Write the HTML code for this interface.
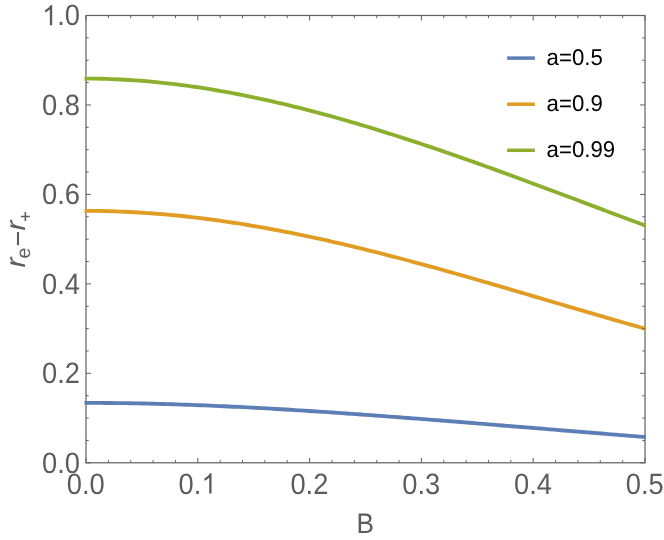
<!DOCTYPE html><html><head><meta charset="utf-8"><style>html,body{margin:0;padding:0;background:#fff}svg{display:block;will-change:transform}text{font-family:"Liberation Sans",sans-serif;text-rendering:geometricPrecision}</style></head><body>
<svg width="664" height="540" viewBox="0 0 664 540">
<rect width="664" height="540" fill="#fff"/>
<rect x="86.0" y="15.5" width="559.0" height="447.3" fill="none" stroke="#606060" stroke-width="1.2"/>
<clipPath id="c"><rect x="84.5" y="15.5" width="561.3" height="447.3"/></clipPath>
<path d="M82.64,402.90 L87.36,402.89 L92.08,402.90 L96.79,402.91 L101.51,402.93 L106.23,402.96 L110.94,403.00 L115.66,403.05 L120.38,403.11 L125.10,403.17 L129.81,403.25 L134.53,403.33 L139.25,403.42 L143.96,403.52 L148.68,403.62 L153.40,403.74 L158.11,403.86 L162.83,403.99 L167.55,404.12 L172.26,404.26 L176.98,404.41 L181.70,404.57 L186.41,404.73 L191.13,404.90 L195.85,405.08 L200.56,405.26 L205.28,405.45 L210.00,405.64 L214.71,405.84 L219.43,406.05 L224.15,406.26 L228.86,406.48 L233.58,406.71 L238.30,406.94 L243.01,407.17 L247.73,407.41 L252.45,407.66 L257.16,407.91 L261.88,408.16 L266.60,408.42 L271.31,408.69 L276.03,408.96 L280.75,409.23 L285.47,409.51 L290.18,409.79 L294.90,410.08 L299.62,410.37 L304.33,410.66 L309.05,410.96 L313.77,411.27 L318.48,411.57 L323.20,411.88 L327.92,412.20 L332.63,412.51 L337.35,412.83 L342.07,413.16 L346.78,413.48 L351.50,413.81 L356.22,414.14 L360.93,414.48 L365.65,414.82 L370.37,415.16 L375.08,415.50 L379.80,415.85 L384.52,416.20 L389.23,416.55 L393.95,416.90 L398.67,417.26 L403.38,417.61 L408.10,417.97 L412.82,418.33 L417.53,418.70 L422.25,419.06 L426.97,419.43 L431.68,419.80 L436.40,420.17 L441.12,420.54 L445.83,420.91 L450.55,421.28 L455.27,421.66 L459.99,422.03 L464.70,422.41 L469.42,422.79 L474.14,423.17 L478.85,423.55 L483.57,423.93 L488.29,424.31 L493.00,424.69 L497.72,425.08 L502.44,425.46 L507.15,425.85 L511.87,426.23 L516.59,426.62 L521.30,427.00 L526.02,427.39 L530.74,427.77 L535.45,428.16 L540.17,428.54 L544.89,428.93 L549.60,429.32 L554.32,429.70 L559.04,430.09 L563.75,430.47 L568.47,430.86 L573.19,431.24 L577.90,431.63 L582.62,432.01 L587.34,432.39 L592.05,432.78 L596.77,433.16 L601.49,433.54 L606.20,433.92 L610.92,434.30 L615.64,434.68 L620.36,435.06 L625.07,435.44 L629.79,435.82 L634.51,436.20 L639.22,436.57 L643.94,436.95 L648.66,437.32" fill="none" stroke="#5B7EB5" stroke-width="3.85" stroke-linejoin="round" clip-path="url(#c)"/>
<path d="M82.64,210.87 L87.36,210.87 L92.08,210.89 L96.79,210.94 L101.51,211.01 L106.23,211.11 L110.94,211.23 L115.66,211.38 L120.38,211.56 L125.10,211.76 L129.81,211.98 L134.53,212.23 L139.25,212.51 L143.96,212.80 L148.68,213.12 L153.40,213.47 L158.11,213.84 L162.83,214.23 L167.55,214.65 L172.26,215.08 L176.98,215.54 L181.70,216.03 L186.41,216.53 L191.13,217.06 L195.85,217.61 L200.56,218.17 L205.28,218.76 L210.00,219.38 L214.71,220.01 L219.43,220.66 L224.15,221.33 L228.86,222.03 L233.58,222.74 L238.30,223.47 L243.01,224.22 L247.73,224.99 L252.45,225.78 L257.16,226.58 L261.88,227.41 L266.60,228.25 L271.31,229.11 L276.03,229.99 L280.75,230.88 L285.47,231.79 L290.18,232.72 L294.90,233.67 L299.62,234.63 L304.33,235.60 L309.05,236.59 L313.77,237.60 L318.48,238.62 L323.20,239.66 L327.92,240.71 L332.63,241.77 L337.35,242.85 L342.07,243.95 L346.78,245.05 L351.50,246.17 L356.22,247.30 L360.93,248.45 L365.65,249.60 L370.37,250.77 L375.08,251.95 L379.80,253.14 L384.52,254.34 L389.23,255.56 L393.95,256.78 L398.67,258.01 L403.38,259.26 L408.10,260.51 L412.82,261.77 L417.53,263.04 L422.25,264.32 L426.97,265.61 L431.68,266.90 L436.40,268.21 L441.12,269.52 L445.83,270.84 L450.55,272.16 L455.27,273.49 L459.99,274.83 L464.70,276.17 L469.42,277.52 L474.14,278.88 L478.85,280.23 L483.57,281.60 L488.29,282.97 L493.00,284.34 L497.72,285.71 L502.44,287.09 L507.15,288.47 L511.87,289.86 L516.59,291.24 L521.30,292.63 L526.02,294.02 L530.74,295.41 L535.45,296.81 L540.17,298.20 L544.89,299.59 L549.60,300.99 L554.32,302.38 L559.04,303.77 L563.75,305.16 L568.47,306.55 L573.19,307.94 L577.90,309.33 L582.62,310.71 L587.34,312.09 L592.05,313.47 L596.77,314.84 L601.49,316.21 L606.20,317.58 L610.92,318.94 L615.64,320.29 L620.36,321.64 L625.07,322.99 L629.79,324.33 L634.51,325.66 L639.22,326.99 L643.94,328.31 L648.66,329.62" fill="none" stroke="#E19C24" stroke-width="3.85" stroke-linejoin="round" clip-path="url(#c)"/>
<path d="M82.64,78.59 L87.36,78.59 L92.08,78.61 L96.79,78.67 L101.51,78.77 L106.23,78.89 L110.94,79.05 L115.66,79.24 L120.38,79.46 L125.10,79.72 L129.81,80.00 L134.53,80.31 L139.25,80.66 L143.96,81.03 L148.68,81.43 L153.40,81.87 L158.11,82.33 L162.83,82.82 L167.55,83.34 L172.26,83.88 L176.98,84.45 L181.70,85.05 L186.41,85.68 L191.13,86.33 L195.85,87.01 L200.56,87.72 L205.28,88.45 L210.00,89.21 L214.71,89.99 L219.43,90.80 L224.15,91.63 L228.86,92.48 L233.58,93.36 L238.30,94.26 L243.01,95.18 L247.73,96.13 L252.45,97.10 L257.16,98.09 L261.88,99.11 L266.60,100.14 L271.31,101.20 L276.03,102.27 L280.75,103.37 L285.47,104.49 L290.18,105.63 L294.90,106.78 L299.62,107.96 L304.33,109.15 L309.05,110.37 L313.77,111.60 L318.48,112.85 L323.20,114.11 L327.92,115.40 L332.63,116.70 L337.35,118.02 L342.07,119.35 L346.78,120.71 L351.50,122.07 L356.22,123.45 L360.93,124.85 L365.65,126.26 L370.37,127.69 L375.08,129.13 L379.80,130.59 L384.52,132.06 L389.23,133.54 L393.95,135.03 L398.67,136.54 L403.38,138.06 L408.10,139.60 L412.82,141.14 L417.53,142.70 L422.25,144.26 L426.97,145.84 L431.68,147.43 L436.40,149.03 L441.12,150.64 L445.83,152.26 L450.55,153.88 L455.27,155.52 L459.99,157.17 L464.70,158.82 L469.42,160.48 L474.14,162.16 L478.85,163.83 L483.57,165.52 L488.29,167.21 L493.00,168.91 L497.72,170.62 L502.44,172.33 L507.15,174.05 L511.87,175.77 L516.59,177.50 L521.30,179.23 L526.02,180.97 L530.74,182.71 L535.45,184.46 L540.17,186.21 L544.89,187.96 L549.60,189.72 L554.32,191.48 L559.04,193.24 L563.75,195.01 L568.47,196.77 L573.19,198.54 L577.90,200.31 L582.62,202.08 L587.34,203.85 L592.05,205.63 L596.77,207.40 L601.49,209.17 L606.20,210.94 L610.92,212.72 L615.64,214.49 L620.36,216.26 L625.07,218.03 L629.79,219.79 L634.51,221.56 L639.22,223.32 L643.94,225.08 L648.66,226.84" fill="none" stroke="#8DAF2E" stroke-width="3.85" stroke-linejoin="round" clip-path="url(#c)"/>
<path d="M86.00,462.8 v-5.0 M86.00,15.5 v5.0 M108.36,462.8 v-2.7 M108.36,15.5 v2.7 M130.72,462.8 v-2.7 M130.72,15.5 v2.7 M153.08,462.8 v-2.7 M153.08,15.5 v2.7 M175.44,462.8 v-2.7 M175.44,15.5 v2.7 M197.80,462.8 v-5.0 M197.80,15.5 v5.0 M220.16,462.8 v-2.7 M220.16,15.5 v2.7 M242.52,462.8 v-2.7 M242.52,15.5 v2.7 M264.88,462.8 v-2.7 M264.88,15.5 v2.7 M287.24,462.8 v-2.7 M287.24,15.5 v2.7 M309.60,462.8 v-5.0 M309.60,15.5 v5.0 M331.96,462.8 v-2.7 M331.96,15.5 v2.7 M354.32,462.8 v-2.7 M354.32,15.5 v2.7 M376.68,462.8 v-2.7 M376.68,15.5 v2.7 M399.04,462.8 v-2.7 M399.04,15.5 v2.7 M421.40,462.8 v-5.0 M421.40,15.5 v5.0 M443.76,462.8 v-2.7 M443.76,15.5 v2.7 M466.12,462.8 v-2.7 M466.12,15.5 v2.7 M488.48,462.8 v-2.7 M488.48,15.5 v2.7 M510.84,462.8 v-2.7 M510.84,15.5 v2.7 M533.20,462.8 v-5.0 M533.20,15.5 v5.0 M555.56,462.8 v-2.7 M555.56,15.5 v2.7 M577.92,462.8 v-2.7 M577.92,15.5 v2.7 M600.28,462.8 v-2.7 M600.28,15.5 v2.7 M622.64,462.8 v-2.7 M622.64,15.5 v2.7 M645.00,462.8 v-5.0 M645.00,15.5 v5.0 M86.0,462.80 h5.0 M645.0,462.80 h-5.0 M86.0,440.44 h2.7 M645.0,440.44 h-2.7 M86.0,418.07 h2.7 M645.0,418.07 h-2.7 M86.0,395.70 h2.7 M645.0,395.70 h-2.7 M86.0,373.34 h5.0 M645.0,373.34 h-5.0 M86.0,350.98 h2.7 M645.0,350.98 h-2.7 M86.0,328.61 h2.7 M645.0,328.61 h-2.7 M86.0,306.25 h2.7 M645.0,306.25 h-2.7 M86.0,283.88 h5.0 M645.0,283.88 h-5.0 M86.0,261.51 h2.7 M645.0,261.51 h-2.7 M86.0,239.15 h2.7 M645.0,239.15 h-2.7 M86.0,216.78 h2.7 M645.0,216.78 h-2.7 M86.0,194.42 h5.0 M645.0,194.42 h-5.0 M86.0,172.06 h2.7 M645.0,172.06 h-2.7 M86.0,149.69 h2.7 M645.0,149.69 h-2.7 M86.0,127.32 h2.7 M645.0,127.32 h-2.7 M86.0,104.96 h5.0 M645.0,104.96 h-5.0 M86.0,82.59 h2.7 M645.0,82.59 h-2.7 M86.0,60.23 h2.7 M645.0,60.23 h-2.7 M86.0,37.86 h2.7 M645.0,37.86 h-2.7 M86.0,15.50 h5.0 M645.0,15.50 h-5.0" stroke="#606060" stroke-width="1.0" fill="none"/>
<text transform="translate(85.80,493.60) scale(0.93,1)" font-size="29.4" fill="#5c5c5c" text-anchor="middle">0.0</text>
<text transform="translate(178.60,493.60) scale(0.93,1)" font-size="29.4" fill="#5c5c5c" text-anchor="start">0.</text>
<path transform="translate(201.40,493.60) scale(0.013351,-0.013798)" d="M760,0 H585 V1150 C500,1075 340,975 225,930 V1100 C400,1185 590,1340 650,1466 H760 Z" fill="#5c5c5c"/>
<text transform="translate(309.40,493.60) scale(0.93,1)" font-size="29.4" fill="#5c5c5c" text-anchor="middle">0.2</text>
<text transform="translate(421.20,493.60) scale(0.93,1)" font-size="29.4" fill="#5c5c5c" text-anchor="middle">0.3</text>
<text transform="translate(533.00,493.60) scale(0.93,1)" font-size="29.4" fill="#5c5c5c" text-anchor="middle">0.4</text>
<text transform="translate(644.80,493.60) scale(0.93,1)" font-size="29.4" fill="#5c5c5c" text-anchor="middle">0.5</text>
<text transform="translate(80.05,472.65) scale(0.93,1)" font-size="29.4" fill="#5c5c5c" text-anchor="end">0.0</text>
<text transform="translate(80.05,383.19) scale(0.93,1)" font-size="29.4" fill="#5c5c5c" text-anchor="end">0.2</text>
<text transform="translate(80.05,293.73) scale(0.93,1)" font-size="29.4" fill="#5c5c5c" text-anchor="end">0.4</text>
<text transform="translate(80.05,204.27) scale(0.93,1)" font-size="29.4" fill="#5c5c5c" text-anchor="end">0.6</text>
<text transform="translate(80.05,114.81) scale(0.93,1)" font-size="29.4" fill="#5c5c5c" text-anchor="end">0.8</text>
<text transform="translate(80.05,25.35) scale(0.93,1)" font-size="29.4" fill="#5c5c5c" text-anchor="end">.0</text>
<path transform="translate(42.04,25.35) scale(0.013351,-0.013798)" d="M760,0 H585 V1150 C500,1075 340,975 225,930 V1100 C400,1185 590,1340 650,1466 H760 Z" fill="#5c5c5c"/>
<text transform="translate(365.30,533.00) scale(0.93,1)" font-size="28.2" fill="#5c5c5c" text-anchor="middle">B</text>
<text transform="translate(25.05,267.60) rotate(-90) scale(1.08,1)" font-size="27.6" fill="#5c5c5c" text-anchor="start" font-style="italic">r</text>
<text transform="translate(25.05,230.60) rotate(-90) scale(1.08,1)" font-size="27.6" fill="#5c5c5c" text-anchor="start" font-style="italic">r</text>
<text transform="translate(29.85,258.50) rotate(-90) scale(1.0,1)" font-size="19.5" fill="#5c5c5c" text-anchor="start">e</text>
<path d="M18.0,245.2 V232.1" stroke="#5c5c5c" stroke-width="2.1" fill="none"/>
<path d="M25.35,220.9 V212.1 M20.9,216.5 H29.8" stroke="#5c5c5c" stroke-width="1.55" fill="none"/>
<path d="M507.1,58.1 H534.9" stroke="#5B7EB5" stroke-width="3.5"/>
<text transform="translate(546.60,64.70) scale(0.975,1)" font-size="22.8" fill="#000" text-anchor="start">a=0.5</text>
<path d="M507.1,104.2 H534.9" stroke="#E19C24" stroke-width="3.5"/>
<text transform="translate(546.60,110.80) scale(0.975,1)" font-size="22.8" fill="#000" text-anchor="start">a=0.9</text>
<path d="M507.1,150.3 H534.9" stroke="#8DAF2E" stroke-width="3.5"/>
<text transform="translate(546.60,156.90) scale(0.975,1)" font-size="22.8" fill="#000" text-anchor="start">a=0.99</text>
</svg></body></html>
